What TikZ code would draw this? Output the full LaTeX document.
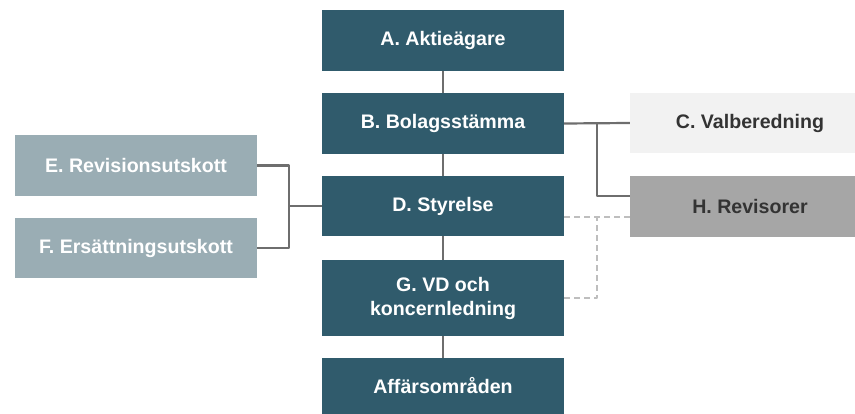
\documentclass[tikz,border=0pt]{standalone}
\usepackage{fontspec}
\setmainfont{Liberation Sans}
\definecolor{teal1}{RGB}{48,91,108}
\definecolor{blgrey}{RGB}{154,173,180}
\definecolor{ltgrey}{RGB}{242,242,242}
\definecolor{mdgrey}{RGB}{166,166,166}
\definecolor{lnclr}{RGB}{110,110,110}
\definecolor{dshclr}{RGB}{190,190,190}
\begin{document}
\begin{tikzpicture}[x=1pt,y=-1pt, line join=round,
	font=\fontsize{19.6}{24}\selectfont\bfseries,
	box/.style={minimum width=242pt, minimum height=61pt, inner sep=0pt, align=center, text=white},
	mainbox/.style={box, fill=teal1},
	sidebox/.style={box, fill=blgrey},
	rbox/.style={box, minimum width=240pt, text={black!80}},
	conn/.style={draw=lnclr, line width=2.2pt},
	dconn/.style={draw=dshclr, line width=2.2pt, dash pattern=on 6pt off 4pt}]
	\useasboundingbox (0,0) rectangle (855,414);
	% mittkolumn
	\node[mainbox] (A) at (443,40.5) {A. Aktieägare};
	\node[mainbox] (B) at (443,123.5) {B. Bolagsstämma};
	\node[mainbox, minimum height=60pt] (D) at (443,206) {D. Styrelse};
	\node[mainbox, minimum height=76pt] (G) at (443,298) {G. VD och\\koncernledning};
	\node[mainbox, minimum height=56pt] (AO) at (443,386) {Affärsområden};
	% höger
	\node[rbox, fill=ltgrey, minimum height=60pt] (C) at (750,123) {C. Valberedning};
	\node[rbox, fill=mdgrey] (H) at (750,206.5) {H. Revisorer};
	% vänster
	\node[sidebox] (E) at (136,165.5) {E. Revisionsutskott};
	\node[sidebox, minimum height=60pt] (F) at (136,248) {F. Ersättningsutskott};
	\coordinate (jr) at (597,123);
	\coordinate (jd) at (597,217);
	\coordinate (jl) at (289,206);
	\draw[conn] (A) -- (B);
	\draw[conn] (B) -- (D);
	\draw[conn] (D) -- (G);
	\draw[conn] (G) -- (AO);
	\draw[conn] (B.east) -- (C.west);
	\draw[conn] (jr) |- ([yshift=10.5pt]H.west);
	\draw[conn] (E.east) -| (jl) |- (F.east);
	\draw[conn] (jl) -- (D.west);
	\draw[dconn] ([yshift=-11pt]D.east) -- ([yshift=-10.5pt]H.west);
	\draw[dconn] (G.east) -| (jd);
\end{tikzpicture}
\end{document}
